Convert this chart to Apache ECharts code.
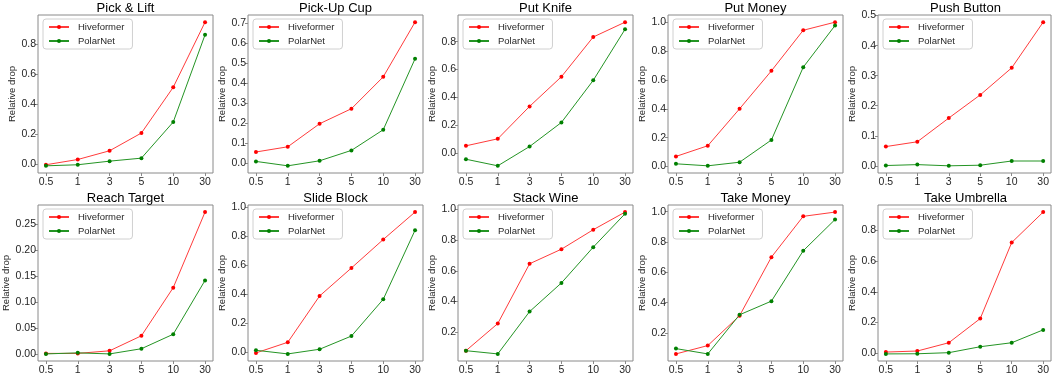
<!DOCTYPE html>
<html>
<head>
<meta charset="utf-8">
<script src="https://cdn.jsdelivr.net/npm/echarts@6/dist/echarts.min.js"></script>
<style>
  html, body { margin: 0; padding: 0; background: #fff; }
  #chart { width: 1052px; height: 376px; }
</style>
</head>
<body>
<div id="chart"></div>
<script>
const xLabels = ["0.5", "1", "3", "5", "10", "30"];

const titles = ["Pick & Lift", "Pick-Up Cup", "Put Knife", "Put Money", "Push Button",
  "Reach Target", "Slide Block", "Stack Wine", "Take Money", "Take Umbrella"];

// Hiveformer values per task
const hivePickLift = [-0.004, 0.031, 0.089, 0.207, 0.511, 0.944];
const hivePickUpCup = [0.057, 0.083, 0.198, 0.273, 0.432, 0.705];
const hivePutKnife = [0.055, 0.105, 0.337, 0.549, 0.833, 0.939];
const hivePutMoney = [0.07, 0.144, 0.4, 0.663, 0.944, 1.0];
const hivePushButton = [0.064, 0.08, 0.159, 0.236, 0.326, 0.478];
const hiveReachTarget = [0.001, 0.001, 0.006, 0.035, 0.128, 0.274];
const hiveSlideBlock = [-0.002, 0.071, 0.39, 0.583, 0.779, 0.968];
const hiveStackWine = [0.079, 0.256, 0.646, 0.741, 0.868, 0.983];
const hiveTakeMoney = [0.062, 0.117, 0.314, 0.7, 0.969, 0.997];
const hiveTakeUmbrella = [0.006, 0.013, 0.067, 0.225, 0.722, 0.921];

// PolarNet values per task
const polarPickLift = [-0.011, -0.004, 0.02, 0.04, 0.28, 0.86];
const polarPickUpCup = [0.01, -0.012, 0.013, 0.065, 0.168, 0.522];
const polarPutKnife = [-0.041, -0.088, 0.05, 0.222, 0.523, 0.888];
const polarPutMoney = [0.019, 0.005, 0.03, 0.184, 0.688, 0.977];
const polarPushButton = [0.001, 0.004, 0.0, 0.002, 0.016, 0.016];
const polarReachTarget = [0.0, 0.002, 0.0, 0.01, 0.038, 0.142];
const polarSlideBlock = [0.016, -0.009, 0.023, 0.114, 0.367, 0.843];
const polarStackWine = [0.079, 0.058, 0.334, 0.521, 0.754, 0.972];
const polarTakeMoney = [0.097, 0.062, 0.32, 0.41, 0.742, 0.948];
const polarTakeUmbrella = [-0.006, -0.005, 0.002, 0.041, 0.067, 0.151];

// y tick labels per panel
const yTicksPickLift = [0.0, 0.2, 0.4, 0.6, 0.8];
const yTicksPickUpCup = [0.0, 0.1, 0.2, 0.3, 0.4, 0.5, 0.6, 0.7];
const yTicksPutKnife = [0.0, 0.2, 0.4, 0.6, 0.8];
const yTicksPutMoney = [0.0, 0.2, 0.4, 0.6, 0.8, 1.0];
const yTicksPushButton = [0.0, 0.1, 0.2, 0.3, 0.4, 0.5];
const yTicksReachTarget = [0.0, 0.05, 0.1, 0.15, 0.2, 0.25];
const yTicksSlideBlock = [0.0, 0.2, 0.4, 0.6, 0.8, 1.0];
const yTicksStackWine = [0.2, 0.4, 0.6, 0.8, 1.0];
const yTicksTakeMoney = [0.2, 0.4, 0.6, 0.8, 1.0];
const yTicksTakeUmbrella = [0.0, 0.2, 0.4, 0.6, 0.8];

const hive = [hivePickLift, hivePickUpCup, hivePutKnife, hivePutMoney, hivePushButton,
  hiveReachTarget, hiveSlideBlock, hiveStackWine, hiveTakeMoney, hiveTakeUmbrella];
const polar = [polarPickLift, polarPickUpCup, polarPutKnife, polarPutMoney, polarPushButton,
  polarReachTarget, polarSlideBlock, polarStackWine, polarTakeMoney, polarTakeUmbrella];
const yTicks = [yTicksPickLift, yTicksPickUpCup, yTicksPutKnife, yTicksPutMoney, yTicksPushButton,
  yTicksReachTarget, yTicksSlideBlock, yTicksStackWine, yTicksTakeMoney, yTicksTakeUmbrella];
const yDecimals = [1, 1, 1, 1, 1, 2, 1, 1, 1, 1];

const font = "Liberation Sans";
const frame = "#8a8a8a";
const textColor = "#262626";

const chart = echarts.init(document.getElementById("chart"), null, { renderer: "canvas" });

const grids = [], xAxes = [], yAxes = [], series = [], legends = [], titleList = [];

for (let i = 0; i < 10; i++) {
  const col = i % 5, row = Math.floor(i / 5);
  const left = 38 + 210 * col;
  const top = row === 0 ? 15 : 205;
  const width = 175, height = 158;

  grids.push({
    left: left, top: top, width: width, height: height,
    show: true, borderColor: frame, borderWidth: 1, backgroundColor: "transparent"
  });

  titleList.push({
    text: titles[i],
    left: left + width / 2, top: top - 13,
    textAlign: "center",
    padding: 0,
    textStyle: { fontFamily: font, fontSize: 13, fontWeight: "normal", color: "#000" }
  });

  xAxes.push({
    type: "value", gridIndex: i,
    min: -0.25, max: 5.25,
    splitLine: { show: false },
    axisLine: { show: false, onZero: false },
    axisTick: { show: true, length: 3, lineStyle: { color: frame }, customValues: [0, 1, 2, 3, 4, 5] },
    axisLabel: {
      customValues: [0, 1, 2, 3, 4, 5],
      formatter: v => xLabels[Math.round(v)],
      fontFamily: font, fontSize: 10.5, color: textColor, margin: 4
    }
  });

  const dec = yDecimals[i];
  yAxes.push({
    type: "value", gridIndex: i,
    min: v => v.min - 0.05 * (v.max - v.min),
    max: v => v.max + 0.05 * (v.max - v.min),
    splitLine: { show: false },
    axisLine: { show: false, onZero: false },
    axisTick: { show: true, length: 3, lineStyle: { color: frame }, customValues: yTicks[i] },
    axisLabel: {
      customValues: yTicks[i],
      formatter: v => v.toFixed(dec),
      fontFamily: font, fontSize: 10.5, color: textColor, margin: 2
    },
    name: "Relative drop",
    nameLocation: "middle",
    nameRotate: 90,
    nameGap: dec === 2 ? 17 : 13,
    nameTextStyle: { fontFamily: font, fontSize: 9.5, color: textColor }
  });

  series.push({
    name: "Hiveformer", type: "line", xAxisIndex: i, yAxisIndex: i,
    data: hive[i].map((v, k) => [k, v]),
    color: "#ff0000", symbol: "circle", symbolSize: 4,
    lineStyle: { width: 1, color: "#ff3b3b" }, itemStyle: { color: "#ff0000" }
  });
  series.push({
    name: "PolarNet", type: "line", xAxisIndex: i, yAxisIndex: i,
    data: polar[i].map((v, k) => [k, v]),
    color: "#008000", symbol: "circle", symbolSize: 4,
    lineStyle: { width: 1, color: "#249424" }, itemStyle: { color: "#008000" }
  });

  legends.push({
    data: ["Hiveformer", "PolarNet"],
    orient: "vertical",
    left: left + 5, top: top + 4,
    itemWidth: 20, itemHeight: 5, itemGap: 4,
    padding: [3, 8, 3, 5],
    borderColor: "#d0d0d0", borderWidth: 1, borderRadius: 3,
    backgroundColor: "#fff",
    selectedMode: false,
    textStyle: { fontFamily: font, fontSize: 9.5, color: textColor, padding: [0, 0, 0, 4] }
  });
}

chart.setOption({
  animation: false,
  backgroundColor: "#fff",
  title: titleList,
  legend: legends,
  grid: grids,
  xAxis: xAxes,
  yAxis: yAxes,
  series: series
});
</script>
</body>
</html>
